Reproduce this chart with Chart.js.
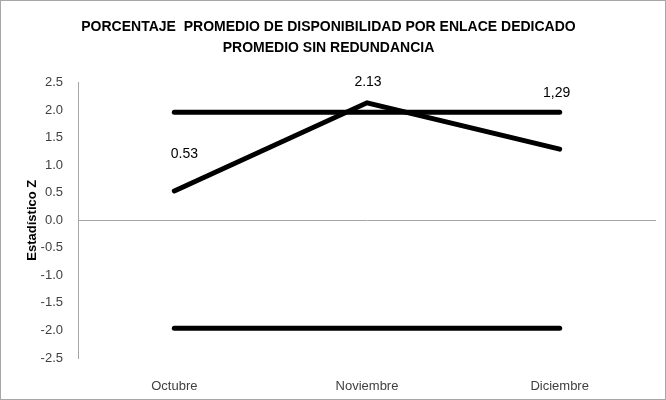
<!DOCTYPE html>
<html lang="es">
<head>
<meta charset="UTF-8">
<title>Porcentaje promedio de disponibilidad</title>
<script src="https://cdn.jsdelivr.net/npm/chart.js@4.4.0"></script>
<style>
    html, body { margin: 0; padding: 0; background: #fff; }
    .chart-box {
        width: 666px;
        height: 400px;
        box-sizing: border-box;
        border: 1px solid #a6a6a6;
        position: relative;
    }
</style>
</head>
<body>
<div class="chart-box">
    <canvas id="zChart"></canvas>
</div>
<script>
// datos
const meses = ['Octubre', 'Noviembre', 'Diciembre'];
const estadisticoZ = [0.53, 2.13, 1.29];
const etiquetasZ = ['0.53', '2.13', '1,29'];
const limiteSuperior = [1.96, 1.96, 1.96];
const limiteInferior = [-1.96, -1.96, -1.96];
const ticksY = [-2.5, -2.0, -1.5, -1.0, -0.5, 0.0, 0.5, 1.0, 1.5, 2.0, 2.5];

const FONT = "'Liberation Sans', Arial, sans-serif";

// etiquetas de datos colocadas a mano (desplazamientos en px)
const labelOffsets = [[10, -37], [1, -21], [-3, -56]];

const dataLabels = {
    id: 'dataLabels',
    afterDatasetsDraw(chart) {
        const meta = chart.getDatasetMeta(0);
        const ctx = chart.ctx;
        ctx.save();
        ctx.font = '14px ' + FONT;
        ctx.fillStyle = '#000';
        ctx.textAlign = 'center';
        ctx.textBaseline = 'middle';
        meta.data.forEach((pt, i) => {
            ctx.fillText(etiquetasZ[i], pt.x + labelOffsets[i][0], pt.y + labelOffsets[i][1]);
        });
        ctx.restore();
    }
};

const lineStyle = {
    borderColor: '#000',
    borderWidth: 5,
    borderCapStyle: 'round',
    borderJoinStyle: 'miter',
    pointRadius: 0,
    pointHoverRadius: 0,
    tension: 0,
    fill: false
};

new Chart(document.getElementById('zChart'), {
    type: 'line',
    data: {
        labels: meses,
        datasets: [
            Object.assign({ label: 'Estadístico Z', data: estadisticoZ }, lineStyle),
            Object.assign({ label: 'Límite superior', data: limiteSuperior }, lineStyle),
            Object.assign({ label: 'Límite inferior', data: limiteInferior }, lineStyle)
        ]
    },
    options: {
        responsive: true,
        maintainAspectRatio: false,
        animation: false,
        layout: { padding: { left: 0, right: 9, top: 0, bottom: 0 } },
        plugins: {
            legend: { display: false },
            tooltip: { enabled: false },
            title: {
                display: true,
                text: ['PORCENTAJE  PROMEDIO DE DISPONIBILIDAD POR ENLACE DEDICADO', 'PROMEDIO SIN REDUNDANCIA'],
                color: '#000',
                font: { family: FONT, size: 14, weight: 'bold', lineHeight: 1.55 },
                padding: { top: 15, bottom: 23 }
            }
        },
        scales: {
            x: {
                offset: true,
                grid: { display: false },
                border: { display: false },
                ticks: { color: '#404040', font: { family: FONT, size: 13 }, padding: 13 },
                afterFit(scale) { scale.height = 41; }
            },
            y: {
                min: -2.5,
                max: 2.5,
                afterBuildTicks(scale) { scale.ticks = ticksY.map(v => ({ value: v })); },
                grid: {
                    drawTicks: false,
                    color: ctx => (ctx.tick && ctx.tick.value === 0) ? '#a6a6a6' : 'rgba(0,0,0,0)',
                    lineWidth: 1
                },
                border: { display: true, color: '#a6a6a6', width: 1 },
                ticks: {
                    color: '#404040',
                    font: { family: FONT, size: 13 },
                    padding: 15,
                    callback: v => Number(v).toFixed(1)
                },
                title: {
                    display: true,
                    text: 'Estadístico Z',
                    color: '#000',
                    font: { family: FONT, size: 13, weight: 'bold' },
                    padding: { top: 24, bottom: 4 }
                },
                afterFit(scale) { scale.width = 77; }
            }
        }
    },
    plugins: [dataLabels]
});
</script>
</body>
</html>
